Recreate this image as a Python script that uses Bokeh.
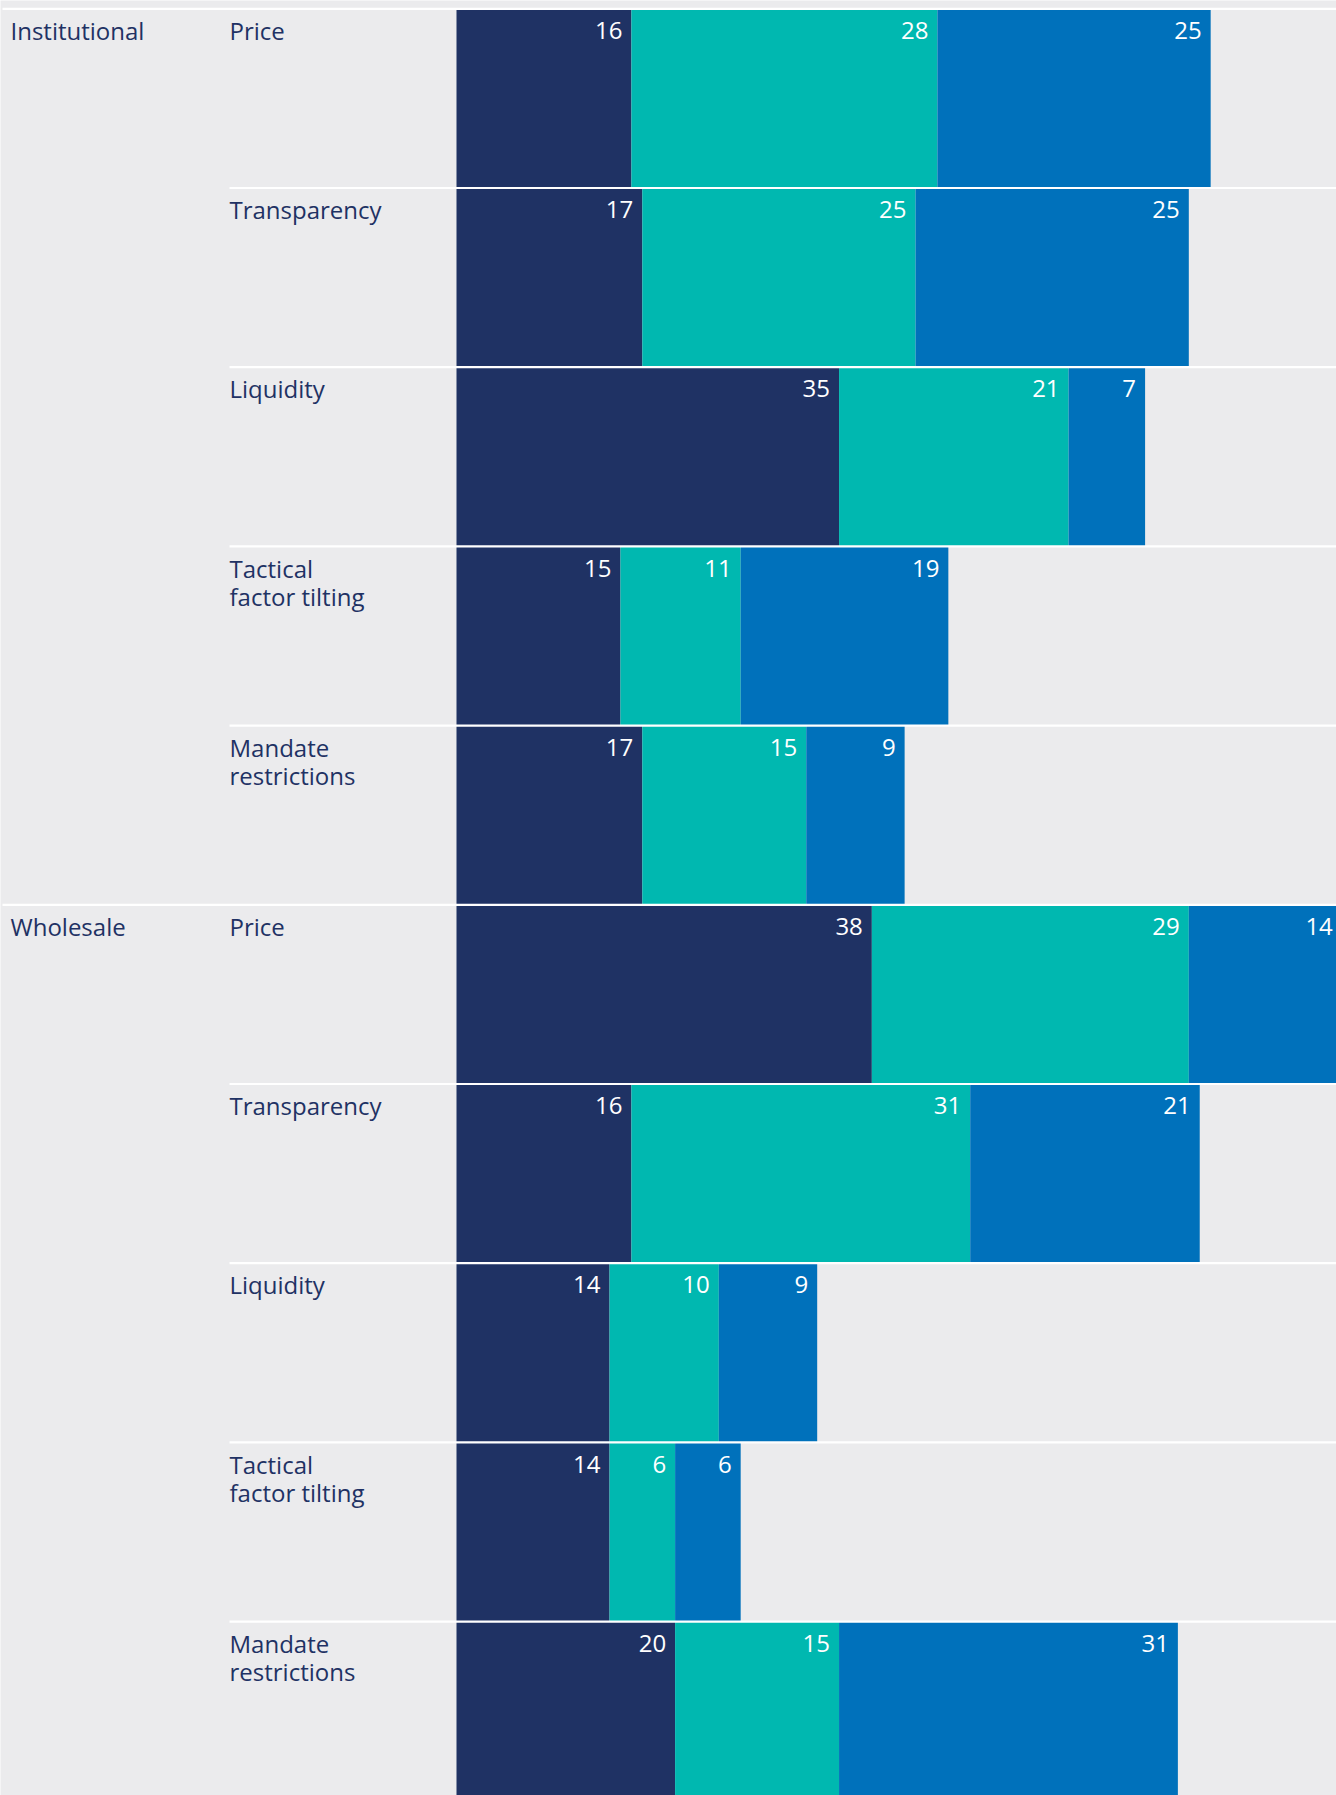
from bokeh.plotting import figure
from bokeh.models import Range1d, ColumnDataSource
from bokeh.core.properties import value
from bokeh.embed import file_html
from bokeh.resources import INLINE

# ---------------- data ----------------
groups = ["Institutional", "Wholesale"]
factors = ["Price", "Transparency", "Liquidity", "Tactical\nfactor tilting", "Mandate\nrestrictions"]
series_1 = [16, 17, 35, 15, 17, 38, 16, 14, 14, 20]
series_2 = [28, 25, 21, 11, 15, 29, 31, 10, 6, 15]
series_3 = [25, 25, 7, 19, 9, 14, 21, 9, 6, 31]

# ---------------- styling / layout constants ----------------
W, H = 1336, 1795
K = 10.93            # px per percentage point
X0 = 456             # frame px where value 0 sits
TOP = 8              # frame px of first row boundary
ROW_H = 179.2        # px per row
BG = "#EBEBED"
NAVY = "#1F3264"
TEAL = "#00B8B0"
BLUE = "#0071BB"
FONT = "Open Sans"
FS = "24px"
LINE_GAP = 28.5
BASE_OFF = 22.0

x_start = -X0 / K
x_end = (W - X0) / K
cat_x = (10 - X0) / K
sub_x = (229 - X0) / K
grp_sep_x = (2 - X0) / K

p = figure(width=W, height=H, output_backend="svg", toolbar_location=None,
           x_range=Range1d(x_start, x_end), y_range=Range1d(H, 0),
           min_border=0, min_border_left=0, min_border_right=0,
           min_border_top=0, min_border_bottom=0)
p.background_fill_color = BG
p.border_fill_color = BG
p.outline_line_color = None
p.axis.visible = False
p.grid.visible = False

n = len(series_1)
rows = list(range(n))
row_top = [TOP + ROW_H * i for i in rows]
row_bot = [TOP + ROW_H * (i + 1) for i in rows]

# stacked bars
lefts = [0] * n
for vals, col in ((series_1, NAVY), (series_2, TEAL), (series_3, BLUE)):
    rights = [l + v for l, v in zip(lefts, vals)]
    src = ColumnDataSource(dict(left=lefts, right=rights, top=row_top, bottom=row_bot))
    p.quad(left="left", right="right", top="top", bottom="bottom", source=src,
           fill_color=col, line_color=None)
    lab = ColumnDataSource(dict(x=rights, y=[t + BASE_OFF for t in row_top],
                                t=[str(v) for v in vals]))
    p.text(x="x", y="y", text="t", source=lab, text_color="white",
           text_font=value(FONT), text_font_size=FS, text_align="right",
           text_baseline="alphabetic", x_offset=-9)
    lefts = rights

# separators (white lines)
sep_left = []
for i in rows:
    sep_left.append(grp_sep_x if i % len(factors) == 0 else sub_x)
sep = ColumnDataSource(dict(left=sep_left, right=[x_end] * n,
                            top=[t - 0.8 for t in row_top], bottom=[t + 1.4 for t in row_top]))
p.quad(left="left", right="right", top="top", bottom="bottom", source=sep,
       fill_color="white", line_color=None)

# row (factor) labels
sx, sy, st = [], [], []
for gi, g in enumerate(groups):
    for fi, f in enumerate(factors):
        i = gi * len(factors) + fi
        for j, line in enumerate(f.split("\n")):
            sx.append(sub_x)
            sy.append(row_top[i] + BASE_OFF + LINE_GAP * j)
            st.append(line)
p.text(x=sx, y=sy, text=st, text_color=NAVY, text_font=value(FONT),
       text_font_size=FS, text_align="left", text_baseline="alphabetic")

# group labels
gx = [cat_x] * len(groups)
gy = [row_top[gi * len(factors)] + BASE_OFF for gi in range(len(groups))]
p.text(x=gx, y=gy, text=groups, text_color=NAVY, text_font=value(FONT),
       text_font_size=FS, text_align="left", text_baseline="alphabetic")

open("out.html", "w").write(file_html(p, INLINE))
